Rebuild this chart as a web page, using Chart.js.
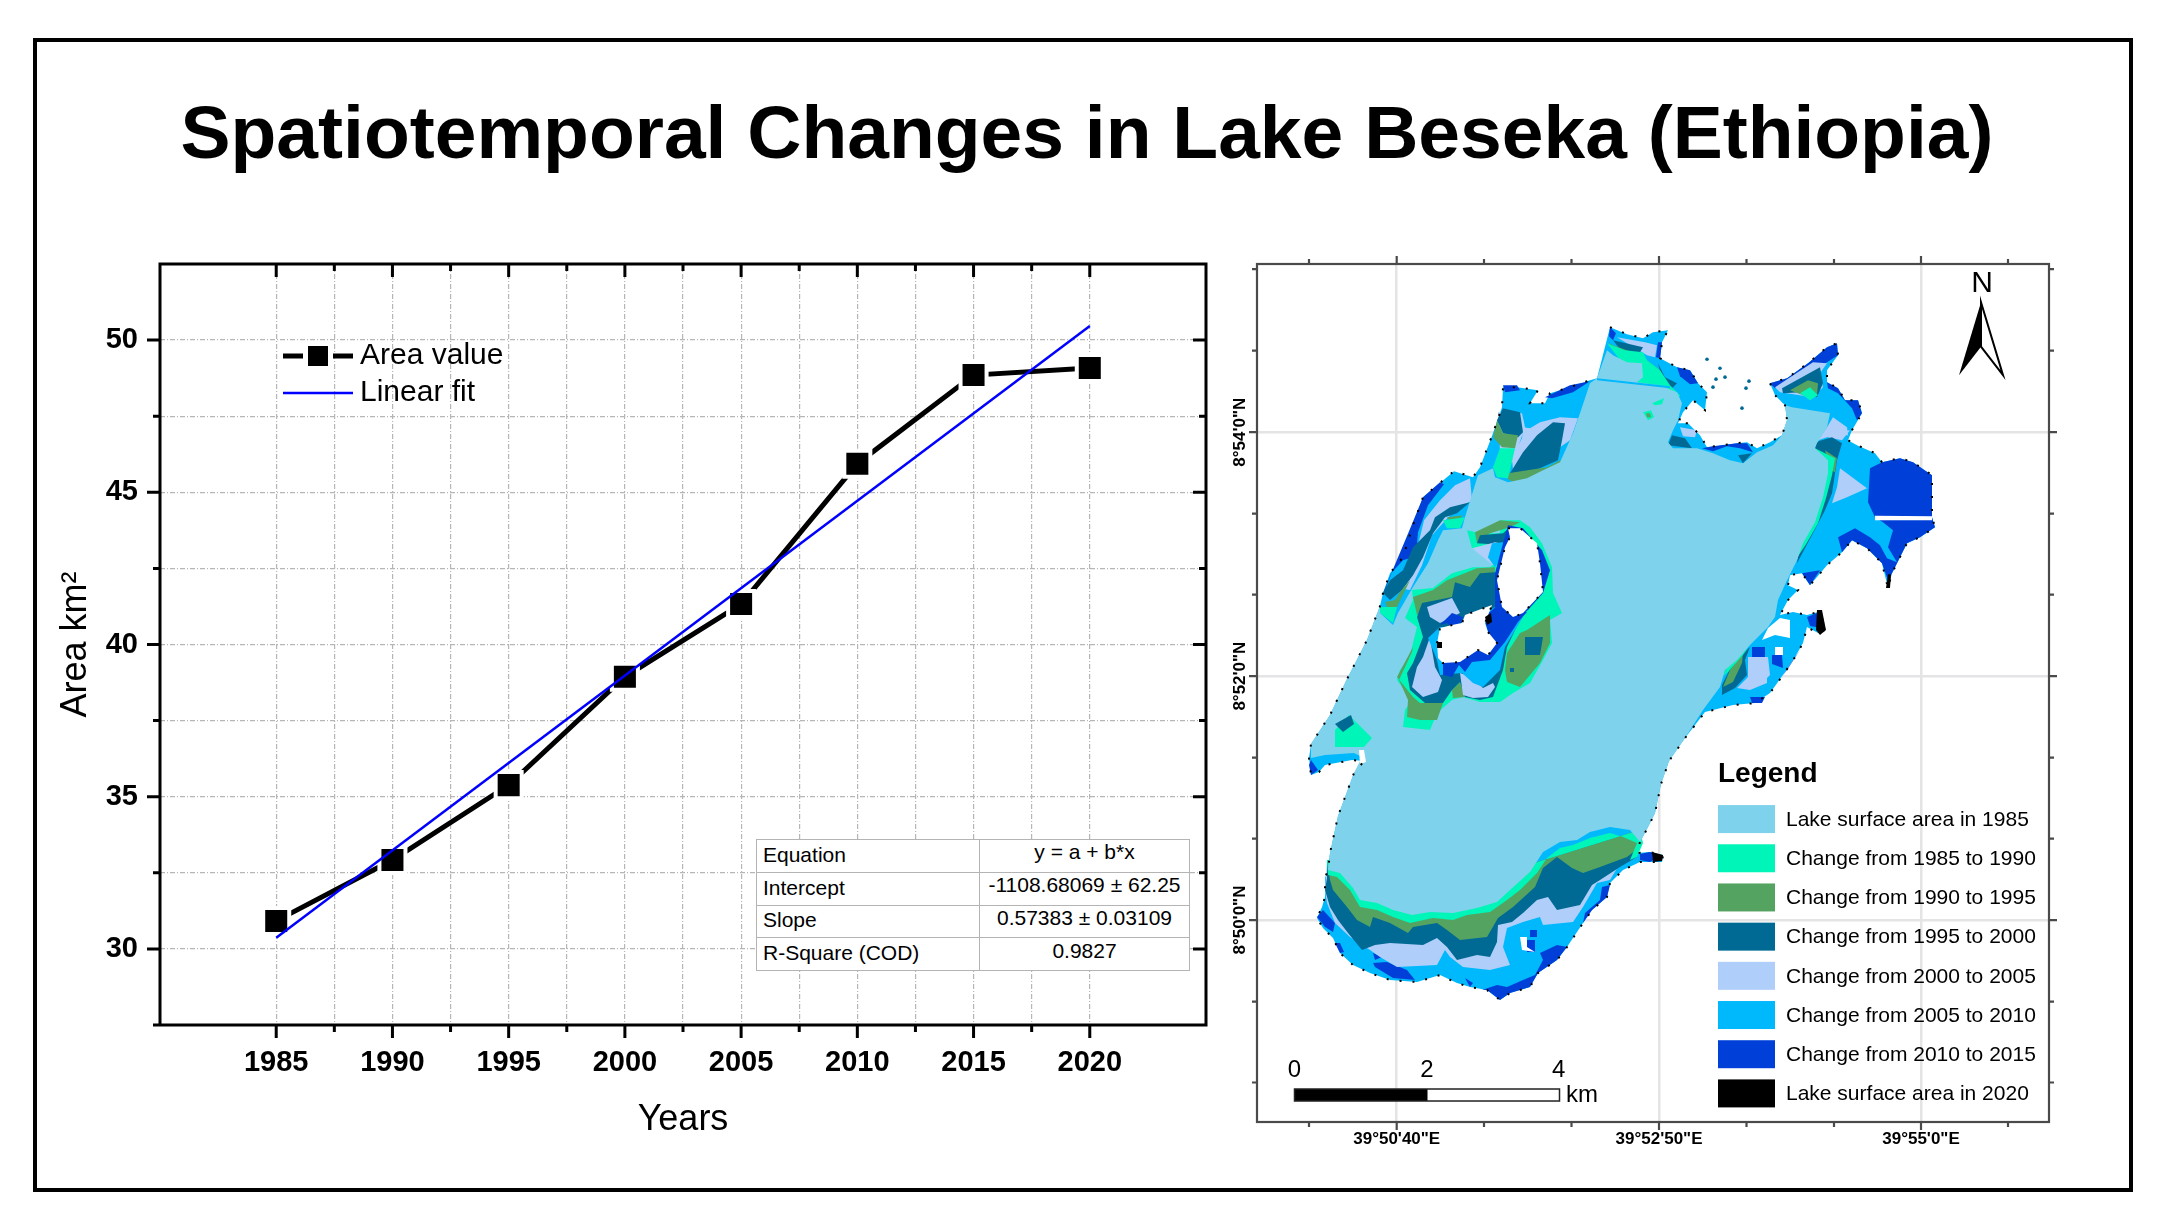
<!DOCTYPE html>
<html>
<head>
<meta charset="utf-8">
<title>Spatiotemporal Changes in Lake Beseka (Ethiopia)</title>
<script src="https://cdn.jsdelivr.net/npm/chart.js@4"></script>
<style>
html,body{margin:0;padding:0;background:#fff;width:2164px;height:1232px;overflow:hidden;font-family:"Liberation Sans",Arial,sans-serif}
#frame{position:absolute;left:33px;top:38px;width:2100px;height:1154px;box-sizing:border-box;border:4px solid #000}
#title{position:absolute;left:0;width:2174px;top:82px;height:100px;line-height:100px;text-align:center;font-weight:bold;font-size:75px;color:#000;white-space:nowrap}
canvas{position:absolute;display:block}
#areaChart{left:40px;top:150px}
#mapChart{left:1210px;top:230px}
#fit{position:absolute;left:756px;top:839px;width:434px;height:132px;box-sizing:border-box;border:1.5px solid #000;background:#fff;border-collapse:collapse;font-size:21px;color:#000;table-layout:fixed}
#fit td{border:1.5px solid #b4b4b4;padding:0 6px 2px 6px;white-space:nowrap;overflow:hidden}
#fit td:first-child{width:210px;text-align:left}
#fit td:last-child{text-align:center;padding-bottom:7px}
</style>
</head>
<body>
<div id="frame"></div>
<div id="title">Spatiotemporal Changes in Lake Beseka (Ethiopia)</div>
<canvas id="areaChart" width="1180" height="1070"></canvas>
<table id="fit"></table>
<canvas id="mapChart" width="930" height="950"></canvas>
<script>
/* ---------- line chart data ---------- */
const years = [1985, 1990, 1995, 2000, 2005, 2010, 2015, 2020];
const areaValues = [30.92, 32.92, 35.38, 38.94, 41.33, 45.94, 48.85, 49.08];
const fitYears = [1985, 2020];
const fitValues = [30.37, 50.46];
const xTickValues = [1985,1987.5,1990,1992.5,1995,1997.5,2000,2002.5,2005,2007.5,2010,2012.5,2015,2017.5,2020];
const yTickValues = [30,32.5,35,37.5,40,42.5,45,47.5,50];
const fitRows = [["Equation","y = a + b*x"],["Intercept","-1108.68069 ± 62.25"],["Slope","0.57383 ± 0.03109"],["R-Square (COD)","0.9827"]];

/* ---------- map data: rings digitised on the map sheet (x, y, x, y, ...) ---------- */
const mapClasses = ["Lake surface area in 1985","Change from 1985 to 1990","Change from 1990 to 1995","Change from 1995 to 2000","Change from 2000 to 2005","Change from 2005 to 2010","Change from 2010 to 2015","Lake surface area in 2020"];
const mapColors = ["#7fd2ec","#00f5b8","#55a361","#006a94","#b0cefa","#00b9fd","#0040d9","#000000"];
const mapGridX = [1396.7,1659,1921];
const mapGridXLabels = ["39°50'40\"E","39°52'50\"E","39°55'0\"E"];
const mapGridY = [432,676,920];
const mapGridYLabels = ["8°54'0\"N","8°52'0\"N","8°50'0\"N"];
const mapMinorX = [1309,1484,1571.5,1746.5,1834,2008];
const mapMinorY = [269,350.5,513.5,594.5,757.5,838.5,1001.5,1082.5];

const outline = [1610,327,1627,334,1643,338,1653,332,1668,330,1662,342,1660,358,1677,367,1690,370,1698,383,1707,392,1705,410,1693,400,1683,412,1678,423,1688,423,1700,435,1707,447,1723,445,1737,443,1747,442,1757,448,1770,442,1782,435,1787,420,1785,405,1775,395,1770,383,1787,378,1808,363,1827,347,1837,343,1838,355,1827,370,1827,382,1838,388,1845,400,1858,400,1862,413,1852,430,1848,440,1857,445,1875,453,1882,462,1900,458,1913,462,1932,475,1932,517,1935,527,1920,537,1907,543,1900,557,1892,573,1888,588,1882,563,1867,548,1852,540,1842,552,1827,565,1810,585,1802,573,1790,575,1788,585,1798,590,1788,600,1780,615,1793,612,1807,615,1818,612,1825,630,1818,633,1807,627,1803,643,1795,657,1783,675,1770,693,1755,703,1733,705,1705,712,1685,738,1669,761,1661,784,1655,813,1648,827,1640,842,1637,853,1650,852,1663,855,1662,862,1640,862,1623,870,1610,883,1607,897,1592,910,1583,923,1567,947,1557,960,1538,973,1530,987,1510,993,1500,1000,1487,990,1470,987,1457,983,1440,975,1417,982,1390,980,1370,973,1353,965,1340,953,1333,938,1323,928,1317,918,1322,907,1325,897,1325,878,1328,870,1330,853,1338,816,1354,773,1364,761,1352,760,1325,765,1319,772,1311,775,1309,758,1311,744,1330,715,1346,681,1367,640,1380,606,1383,593,1390,573,1403,557,1413,525,1423,497,1454,471,1473,477,1480,467,1493,433,1502,407,1503,387,1517,387,1538,390,1530,403,1545,403,1550,393,1570,387,1590,380,1597,378];
const lakeRing = [1597,378,1607,350,1613,355,1627,362,1642,363,1643,377,1637,382,1660,385,1677,392,1682,403,1678,420,1673,430,1668,442,1673,448,1697,448,1713,453,1730,460,1743,463,1757,452,1773,445,1782,435,1787,420,1785,405,1792,407,1830,413,1827,427,1817,443,1815,448,1828,460,1828,473,1823,497,1815,522,1803,543,1797,560,1787,580,1778,600,1775,617,1768,627,1750,645,1737,660,1725,670,1720,687,1703,710,1685,738,1669,761,1661,784,1655,813,1648,827,1640,842,1630,830,1610,827,1590,832,1577,840,1560,842,1543,852,1530,872,1510,890,1497,902,1477,908,1453,913,1430,912,1412,915,1393,910,1377,903,1360,900,1353,888,1340,873,1328,870,1330,853,1338,816,1354,773,1362,757,1354,753,1325,755,1311,758,1311,744,1330,715,1346,681,1367,640,1380,606,1380,613,1393,625,1398,613,1413,587,1428,563,1438,540,1443,530,1462,528,1465,517,1473,491,1478,475,1493,468,1495,477,1508,482,1527,478,1543,470,1560,462,1573,433,1580,413,1590,383];

const shoreDark = [
 [1870,468,1882,462,1900,458,1913,462,1932,475,1932,517,1935,527,1920,537,1907,543,1900,557,1892,573,1888,580,1882,563,1867,548,1852,540,1842,552,1838,537,1855,528,1870,537,1880,545,1887,558,1897,562,1888,547,1893,530,1883,522,1875,517,1868,502],
 [1802,573,1820,570,1810,585],
 [1807,617,1820,612,1822,628,1810,626],
 [1772,655,1782,655,1783,668,1772,664],
 [1752,647,1765,647,1765,657,1752,657],
 [1787,670,1800,650,1795,657,1783,675],
 [1750,697,1765,697,1762,703,1752,703],
 [1409,531,1423,497,1440,482,1444,484,1428,505,1418,532,1416,556,1403,560,1392,572,1385,590,1383,593],
 [1503,385,1517,385,1520,390,1505,392],
 [1545,397,1570,385,1590,381,1573,392,1552,398],
 [1702,448,1713,446,1737,443,1747,443,1753,452,1740,448,1727,446,1713,451],
 [1770,383,1787,378,1808,363,1827,347,1837,343,1838,355,1827,362,1808,373,1790,382,1775,388],
 [1827,382,1838,388,1845,400,1858,400,1862,413,1857,420,1852,408,1838,393,1828,388],
 [1610,327,1616,333,1613,340,1609,336],
 [1658,342,1662,342,1660,358,1656,357],
 [1677,367,1690,370,1698,383,1690,384,1680,376],
 [1317,917,1323,910,1335,923,1333,932,1325,927],
 [1335,943,1340,943,1344,952,1340,953],
 [1373,963,1387,962,1407,970,1415,980,1393,978,1375,967],
 [1373,953,1382,957,1375,960],
 [1465,978,1473,983,1470,987],
 [1482,990,1497,985,1507,987,1523,980,1535,975,1543,960,1540,953,1557,945,1567,947,1557,960,1538,973,1530,987,1510,993,1500,1000,1487,990],
 [1585,913,1600,900,1602,887,1610,885,1607,897,1592,910,1583,923],
 [1640,854,1650,852,1660,856,1650,862,1640,860],
 [1311,760,1318,770,1311,775,1309,765]
];
const shorePale = [
 [1523,427,1530,428,1540,422,1560,417,1578,418,1570,440,1560,447,1547,463,1513,470,1512,457,1522,438],
 [1498,412,1522,413,1525,427,1518,447,1512,463,1500,450],
 [1470,478,1472,500,1450,515,1432,535,1422,565,1410,590,1398,588,1408,570,1418,545,1424,520,1440,500,1455,485],
 [1617,337,1645,342,1657,345,1655,357,1647,355],
 [1680,427,1697,430,1695,437,1683,436],
 [1775,387,1813,362,1827,363,1820,373,1823,387,1813,397,1780,392],
 [1827,427,1833,417,1847,427,1848,435,1833,435,1818,440],
 [1840,468,1867,488,1847,497,1832,503,1837,487],
 [1823,433,1850,430,1842,440,1828,437],
 [1748,657,1768,657,1770,675,1767,678,1767,683,1750,690,1737,688,1748,677],
 [1610,880,1597,883,1583,907,1573,922,1543,925,1540,917,1523,922,1507,928,1503,947,1510,965,1490,970,1463,967,1450,957,1445,950,1437,965,1397,967,1380,957,1370,950,1350,937,1335,923,1327,903,1325,890,1327,860,1480,880,1640,830]
];
const shoreTeal = [
 [1510,473,1523,452,1537,435,1553,422,1565,423,1562,440,1558,460,1542,467,1520,477],
 [1503,408,1520,412,1523,432,1518,437,1503,433,1497,420],
 [1383,593,1390,580,1403,570,1413,547,1430,530,1435,517,1450,507,1470,502,1457,513,1445,517,1433,533,1423,557,1413,575,1402,590,1390,600],
 [1613,340,1643,347,1637,357,1623,353],
 [1658,363,1665,377,1677,383,1672,388,1662,380],
 [1668,445,1672,435,1685,438,1692,448],
 [1738,455,1752,453,1743,463],
 [1782,388,1820,367,1823,383,1817,397,1800,392,1783,393],
 [1815,442,1832,437,1842,443,1837,460,1832,493,1825,510,1813,533,1797,563],
 [1750,647,1745,660,1747,675,1735,688,1722,695,1722,685,1733,663],
 [1637,857,1620,867,1600,880,1592,885,1580,905,1557,910,1548,897,1537,900,1523,913,1512,922,1498,925,1497,942,1490,957,1477,955,1457,960,1447,947,1437,938,1423,945,1390,943,1375,945,1362,950,1348,933,1338,920,1330,907,1325,890,1327,878,1327,860,1480,880,1640,830]
];
const shoreGreen = [
 [1508,473,1547,467,1560,460,1562,463,1540,475,1513,482,1507,478],
 [1497,420,1503,433,1518,435,1515,448,1502,447,1493,437],
 [1385,602,1395,600,1400,592,1410,580,1397,607,1390,615],
 [1447,517,1463,515,1453,525],
 [1608,343,1627,350,1643,357,1660,370,1663,382,1640,380],
 [1790,390,1808,380,1818,383,1817,395,1803,395],
 [1825,450,1837,458,1835,472,1831,470],
 [1743,653,1742,663,1733,682,1723,687,1730,670],
 [1640,847,1627,857,1600,867,1583,873,1572,868,1557,857,1543,868,1535,887,1513,907,1498,918,1487,937,1460,940,1447,930,1437,923,1413,927,1408,933,1390,923,1373,917,1370,927,1357,920,1347,907,1333,890,1330,880,1327,860,1480,880,1640,830]
];
const shoreMint = [
 [1493,467,1500,448,1515,448,1510,470,1508,478,1497,477],
 [1380,607,1397,607,1393,623,1380,613],
 [1443,520,1465,517,1460,528,1447,528],
 [1607,343,1625,350,1643,352,1647,360,1660,370,1670,385,1680,395,1675,405,1640,385],
 [1800,393,1810,387,1818,395,1810,400],
 [1815,448,1835,458,1832,475,1826,498,1818,523,1806,544,1792,565,1787,580],
 [1748,648,1743,655,1728,672,1722,677,1720,683,1727,667],
 [1643,843,1637,857,1630,860,1637,843,1623,837,1610,833,1590,838,1573,845,1560,848,1547,858,1537,873,1520,890,1507,900,1490,912,1467,915,1453,920,1433,918,1410,923,1393,917,1377,910,1360,907,1350,890,1337,877,1328,875,1327,860,1480,880,1640,830]
];
const isleMint = [
 [1500,520,1520,520,1530,527,1542,543,1552,567,1553,593,1562,613,1550,620,1552,643,1543,660,1530,683,1513,693,1500,702,1480,702,1463,697,1452,700,1437,713,1430,730,1403,727,1405,710,1412,700,1397,680,1400,670,1410,657,1413,643,1417,627,1405,618,1413,600,1412,590,1433,588,1452,573,1473,567,1490,567,1495,563,1472,548,1467,530,1480,533,1500,533],
 [1643,412,1651,410,1654,417,1648,420],
 [1652,403,1664,398,1662,404,1655,405],
 [1335,730,1349,715,1372,738,1364,747,1335,747]
];
const isleGreen = [
 [1550,615,1550,643,1540,663,1520,687,1507,682,1505,670,1507,653,1520,633,1527,630],
 [1413,597,1433,590,1447,580,1477,568,1495,567,1493,600,1463,607,1427,603,1417,615],
 [1413,647,1397,677,1413,697,1420,703,1443,703,1437,720,1420,720,1407,717,1408,700,1399,680,1412,652],
 [1475,532,1500,520,1520,522,1510,527,1490,533,1477,543],
 [1646,413,1650,413,1651,417,1647,417],
 [1452,690,1460,682,1465,697,1453,698]
];
const isleTeal = [
 [1417,617,1422,603,1452,597,1455,582,1470,587,1480,573,1495,572,1500,605,1520,620,1507,647,1503,670,1493,697,1480,700,1465,697,1460,682,1452,690,1443,703,1425,703,1410,690,1407,673,1413,663,1423,637],
 [1477,543,1480,535,1503,533,1512,525,1507,543,1492,544],
 [1525,637,1543,637,1540,655,1525,655],
 [1510,668,1514,668,1514,672,1510,672],
 [1335,724,1351,715,1354,724,1343,732]
];
const islePale = [
 [1427,607,1452,598,1460,613,1440,623,1430,617],
 [1430,637,1423,657,1417,667,1412,687,1423,697,1438,692,1442,680,1435,667,1432,650],
 [1460,673,1472,677,1483,688,1493,683,1495,687,1488,697,1473,698,1463,695],
 [1472,548,1495,542,1500,543,1493,565]
];
const isleLight = [
 [1428,638,1437,660,1440,675,1462,673,1473,683,1483,687,1500,670,1505,647,1523,617,1495,607,1460,627,1440,627],
 [1492,543,1503,542,1502,555,1495,567,1488,557],
 [1597,378,1670,386,1670,388,1597,380],
 [1782,400,1833,410,1833,412,1782,402]
];
const isleDark = [
 [1438,650,1443,663,1443,675,1452,677,1459,665,1465,672,1472,662,1490,660,1505,642,1518,622,1527,612,1500,603,1484,617,1490,640],
 [1440,625,1452,613,1463,617,1457,632,1447,623],
 [1508,525,1523,528,1542,550,1550,570,1543,593,1528,610,1513,620,1495,607,1495,573,1503,543],
 [1527,940,1535,940,1535,952,1527,952],
 [1530,930,1537,930,1537,937,1530,937]
];
const noDataWhite = [
 [1437,643,1440,628,1452,625,1462,623,1465,615,1492,605,1485,623,1488,632,1497,643,1488,655,1478,650,1460,662,1443,663,1438,658],
 [1508,528,1520,528,1537,543,1540,563,1543,592,1523,613,1513,617,1502,607,1497,580,1505,547,1510,537],
 [1875,515.5,1932,516,1932,520,1875,520],
 [1768,628,1780,618,1790,620,1790,638,1775,635,1762,640],
 [1775,647,1783,647,1783,655,1775,655],
 [1520,937,1527,937,1527,947,1535,952,1522,950],
 [1359,750,1364,750,1366,762,1360,764]
];
const lakeBlobs2020 = [
 [1817,610,1822,610,1826,630,1820,635,1816,630],
 [1652,852,1663,855,1662,861,1653,862],
 [1888,574,1891,574,1890,588,1886,588],
 [1437,642,1442,642,1442,648,1437,648],
 [1485,617,1491,613,1492,622,1487,625]
];
const lakeSpecks = [{x:1707,y:359},{x:1720,y:368},{x:1725,y:377},{x:1713,y:387},{x:1746,y:388},{x:1742,y:408},{x:1716,y:379},{x:1749,y:381}];

/* ---------- shared ---------- */
const FONT = '"Liberation Sans", Arial, sans-serif';
Chart.defaults.font.family = FONT;
Chart.defaults.color = '#000';

/* ---------- line chart ---------- */
document.getElementById('fit').innerHTML = fitRows.map(r => `<tr><td>${r[0]}</td><td>${r[1]}</td></tr>`).join('');
const areaFrame = {
  id: 'areaFrame',
  afterDatasetsDraw(chart) {
    const {ctx, chartArea: a, scales: {x, y}} = chart;
    ctx.save();
    ctx.strokeStyle = '#000'; ctx.lineCap = 'butt';
    ctx.lineWidth = 3;
    ctx.beginPath();
    ctx.moveTo(a.left - 7, a.bottom); ctx.lineTo(a.right + 1.5, a.bottom);
    ctx.moveTo(a.left, a.bottom); ctx.lineTo(a.left, a.top);
    ctx.moveTo(a.left - 1.5, a.top); ctx.lineTo(a.right + 1.5, a.top);
    ctx.moveTo(a.right, a.top); ctx.lineTo(a.right, a.bottom);
    xTickValues.forEach(v => {
      const p = x.getPixelForValue(v), L = v % 5 === 0 ? 13 : 7;
      ctx.moveTo(p, a.bottom); ctx.lineTo(p, a.bottom + L);
      ctx.moveTo(p, a.top); ctx.lineTo(p, a.top + L);
    });
    yTickValues.forEach(v => {
      const p = y.getPixelForValue(v), L = v % 5 === 0 ? 13 : 7;
      ctx.moveTo(a.left, p); ctx.lineTo(a.left - L, p);
      ctx.moveTo(a.right, p); ctx.lineTo(a.right - L, p);
    });
    ctx.stroke();
    /* legend */
    const ds = chart.data.datasets;
    ctx.font = '30px ' + FONT; ctx.fillStyle = '#000'; ctx.textBaseline = 'middle'; ctx.textAlign = 'left';
    const lx = 243, rx = 313, tx = 320, y1 = 206, y2 = 243;
    ctx.strokeStyle = ds[1].borderColor; ctx.lineWidth = ds[1].borderWidth;
    ctx.beginPath(); ctx.moveTo(lx, y1); ctx.lineTo(lx + 20, y1); ctx.moveTo(rx - 20, y1); ctx.lineTo(rx, y1); ctx.stroke();
    ctx.fillRect((lx + rx) / 2 - 10, y1 - 10, 20, 20);
    ctx.fillText(ds[1].label, tx, y1);
    ctx.strokeStyle = ds[0].borderColor; ctx.lineWidth = ds[0].borderWidth;
    ctx.beginPath(); ctx.moveTo(lx, y2); ctx.lineTo(rx, y2); ctx.stroke();
    ctx.fillText(ds[0].label, tx, y2);
    ctx.restore();
  }
};
new Chart(document.getElementById('areaChart'), {
  type: 'scatter',
  data: {
    datasets: [
      { label: 'Linear fit', data: fitYears.map((v, i) => ({x: v, y: fitValues[i]})), showLine: true, borderColor: '#0000ff', borderWidth: 2.5, pointRadius: 0, order: 0 },
      { label: 'Area value', data: years.map((v, i) => ({x: v, y: areaValues[i]})), showLine: true, borderColor: '#000', borderWidth: 5,
        pointStyle: 'rect', pointRadius: 18.4, pointBackgroundColor: '#000', pointBorderColor: '#fff', pointBorderWidth: 4, order: 1 }
    ]
  },
  options: {
    responsive: false, animation: false, devicePixelRatio: 1, events: [],
    layout: { autoPadding: false, padding: { left: 10, right: 14, top: 114, bottom: 75 } },
    plugins: { legend: { display: false }, tooltip: { enabled: false }, title: { display: false } },
    scales: {
      x: {
        type: 'linear', min: 1980, max: 2025,
        afterBuildTicks: s => { s.ticks = xTickValues.map(v => ({value: v, major: v % 5 === 0})); },
        afterFit: s => { s.height = 120; s.paddingLeft = 0; s.paddingRight = 0; },
        grid: { color: '#b6b6b6', lineWidth: 1.2, drawTicks: false },
        border: { display: false, dash: [5, 2, 1, 2] },
        ticks: { autoSkip: false, maxRotation: 0, minRotation: 0, padding: 21, color: '#000', font: { size: 29, weight: 'bold' }, callback: v => v % 5 === 0 ? String(v) : '' },
        title: { display: true, text: 'Years', color: '#000', font: { size: 36 }, padding: { top: 0, bottom: 3 } }
      },
      y: {
        type: 'linear', min: 27.5, max: 52.5,
        afterBuildTicks: s => { s.ticks = yTickValues.map(v => ({value: v, major: v % 5 === 0})); },
        afterFit: s => { s.width = 110; s.paddingTop = 0; s.paddingBottom = 0; },
        grid: { color: '#b6b6b6', lineWidth: 1.2, drawTicks: false },
        border: { display: false, dash: [5, 2, 1, 2] },
        ticks: { autoSkip: false, padding: 22, color: '#000', font: { size: 29, weight: 'bold' }, callback: v => v % 5 === 0 ? String(v) : '' },
        title: { display: true, text: 'Area km²', color: '#000', font: { size: 36 }, padding: { top: 4, bottom: 0 } }
      }
    }
  },
  plugins: [areaFrame]
});

/* ---------- map chart ---------- */
const ringsToData = rings => {
  const out = [];
  rings.forEach(r => {
    for (let i = 0; i < r.length; i += 2) out.push({x: r[i], y: r[i + 1]});
    out.push({x: null, y: null});
  });
  return out;
};
const poly = (label, rings, color) => ({ label, data: ringsToData(rings), showLine: true, fill: 'shape', backgroundColor: color, borderWidth: 0, borderColor: 'transparent', pointRadius: 0, spanGaps: false, tension: 0 });
const [cLake, cMint, cGreen, cTeal, cPale, cLight, cDark, cBlack] = mapColors;
const painter = [
  poly(mapClasses[5], [outline], cLight),
  poly(mapClasses[6], shoreDark, cDark),
  poly(mapClasses[4], shorePale, cPale),
  poly(mapClasses[3], shoreTeal, cTeal),
  poly(mapClasses[2], shoreGreen, cGreen),
  poly(mapClasses[1], shoreMint, cMint),
  poly(mapClasses[0], [lakeRing], cLake),
  poly(mapClasses[1], isleMint, cMint),
  poly(mapClasses[2], isleGreen, cGreen),
  poly(mapClasses[3], isleTeal, cTeal),
  poly(mapClasses[4], islePale, cPale),
  poly(mapClasses[5], isleLight, cLight),
  poly(mapClasses[6], isleDark, cDark),
  poly('No change', noDataWhite, '#ffffff'),
  poly(mapClasses[7], lakeBlobs2020, cBlack),
  { label: mapClasses[7], data: ringsToData([outline, noDataWhite[0], noDataWhite[1]]), showLine: true, borderColor: '#000', borderWidth: 2, borderDash: [2, 11], pointRadius: 0, fill: false, spanGaps: false },
  { label: mapClasses[5], data: lakeSpecks, showLine: false, pointRadius: 1.8, pointBackgroundColor: cTeal, pointBorderWidth: 0 }
];
painter.forEach((d, i) => { d.order = painter.length - i; });

const mapDecor = {
  id: 'mapDecor',
  afterDatasetsDraw(chart) {
    const {ctx, chartArea: a, scales: {x, y}} = chart;
    ctx.save();
    /* frame + ticks */
    ctx.strokeStyle = '#4a4a4a'; ctx.lineWidth = 2.2;
    ctx.strokeRect(a.left, a.top, a.right - a.left, a.bottom - a.top);
    ctx.beginPath();
    mapGridX.concat(mapMinorX).forEach((v, i) => {
      const p = x.getPixelForValue(v), L = i < mapGridX.length ? 8 : 5;
      ctx.moveTo(p, a.top); ctx.lineTo(p, a.top - L);
      ctx.moveTo(p, a.bottom); ctx.lineTo(p, a.bottom + L);
    });
    mapGridY.concat(mapMinorY).forEach((v, i) => {
      const p = y.getPixelForValue(v), L = i < mapGridY.length ? 8 : 5;
      ctx.moveTo(a.left, p); ctx.lineTo(a.left - L, p);
      ctx.moveTo(a.right, p); ctx.lineTo(a.right + L, p);
    });
    ctx.stroke();
    const X = v => x.getPixelForValue(v), Y = v => y.getPixelForValue(v);
    /* north arrow */
    ctx.fillStyle = '#000'; ctx.textAlign = 'center'; ctx.textBaseline = 'middle';
    ctx.font = '30px ' + FONT;
    ctx.fillText('N', X(1982), Y(284));
    ctx.beginPath(); ctx.moveTo(X(1981), Y(302)); ctx.lineTo(X(1959), Y(375)); ctx.lineTo(X(1981), Y(346.5)); ctx.closePath(); ctx.fill();
    ctx.strokeStyle = '#000'; ctx.lineWidth = 2;
    ctx.beginPath(); ctx.moveTo(X(1981), Y(302)); ctx.lineTo(X(2003), Y(375)); ctx.lineTo(X(1981), Y(346.5)); ctx.closePath(); ctx.stroke();
    /* scale bar */
    ctx.fillStyle = '#000'; ctx.fillRect(X(1294.5), Y(1089), X(1427.5) - X(1294.5), Y(1101) - Y(1089));
    ctx.lineWidth = 1.5; ctx.strokeStyle = '#222'; ctx.strokeRect(X(1294.5), Y(1089), X(1559.5) - X(1294.5), Y(1101) - Y(1089));
    ctx.font = '24px ' + FONT;
    [['0', 1294.5], ['2', 1427], ['4', 1558.7]].forEach(t => ctx.fillText(t[0], X(t[1]), Y(1070)));
    ctx.textAlign = 'left'; ctx.fillText('km', X(1566), Y(1095));
    /* legend */
    ctx.font = 'bold 28px ' + FONT; ctx.textBaseline = 'alphabetic';
    ctx.fillText('Legend', X(1718), Y(782));
    ctx.font = '21px ' + FONT; ctx.textBaseline = 'middle';
    mapClasses.forEach((label, i) => {
      const top = 805 + i * 39.2;
      ctx.fillStyle = mapColors[i];
      ctx.fillRect(X(1718), Y(top), X(1775) - X(1718), Y(top + 28) - Y(top));
      ctx.fillStyle = '#000';
      ctx.fillText(label, X(1786), Y(top + 15));
    });
    ctx.restore();
  }
};
const mapXTicks = mapGridX.concat(mapMinorX).sort((a, b) => a - b);
const mapYTicks = mapGridY.concat(mapMinorY).sort((a, b) => a - b);
new Chart(document.getElementById('mapChart'), {
  type: 'scatter',
  data: { datasets: painter },
  options: {
    responsive: false, animation: false, devicePixelRatio: 1, events: [],
    layout: { autoPadding: false, padding: { left: 0, right: 91, top: 34, bottom: 18 } },
    plugins: { legend: { display: false }, tooltip: { enabled: false } },
    scales: {
      x: {
        type: 'linear', min: 1257, max: 2049,
        afterBuildTicks: s => { s.ticks = mapXTicks.map(v => ({value: v})); },
        afterFit: s => { s.height = 40; },
        grid: { drawTicks: false, lineWidth: 2.5, color: c => (c.tick && mapGridX.includes(c.tick.value)) ? '#e4e4e6' : 'transparent' },
        border: { display: false },
        ticks: { autoSkip: false, maxRotation: 0, minRotation: 0, padding: 7, color: '#000', font: { size: 17, weight: 'bold' },
          callback: v => { const i = mapGridX.indexOf(v); return i < 0 ? '' : mapGridXLabels[i]; } }
      },
      y: {
        type: 'linear', min: 263.8, max: 1122, reverse: true,
        afterBuildTicks: s => { s.ticks = mapYTicks.map(v => ({value: v})); },
        afterFit: s => { s.width = 47; },
        grid: { drawTicks: false, lineWidth: 2.5, color: c => (c.tick && mapGridY.includes(c.tick.value)) ? '#e4e4e6' : 'transparent' },
        border: { display: false },
        ticks: { autoSkip: false, minRotation: 90, maxRotation: 90, crossAlign: 'center', padding: -18, color: '#000', font: { size: 17, weight: 'bold' },
          callback: v => { const i = mapGridY.indexOf(v); return i < 0 ? '' : mapGridYLabels[i]; } }
      }
    }
  },
  plugins: [mapDecor]
});
</script>
</body>
</html>
